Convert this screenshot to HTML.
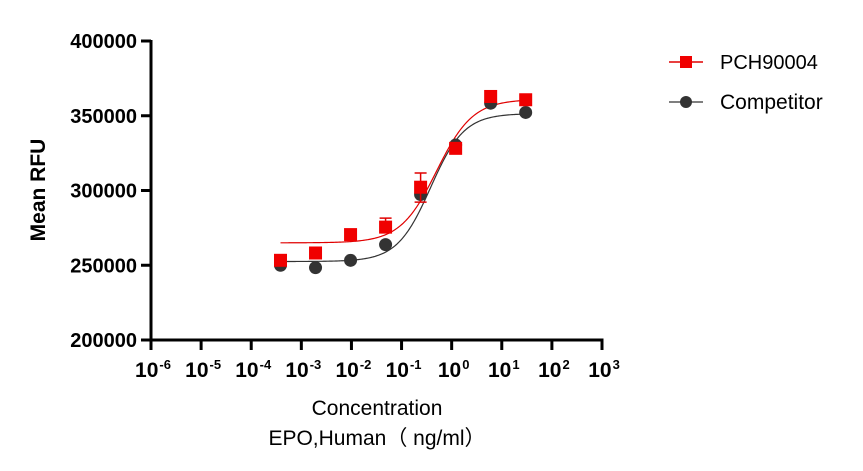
<!DOCTYPE html>
<html><head><meta charset="utf-8"><style>
html,body{margin:0;padding:0;background:#fff;width:863px;height:471px;overflow:hidden}
svg text{font-family:"Liberation Sans",Arial,sans-serif}
</style></head><body>
<svg id="chart" width="863" height="471" viewBox="0 0 863 471"></svg>
<script>
const concentrations=[0.000384,0.00192,0.0096,0.048,0.24,1.2,6,30];
const pchValues=[253300,258200,270500,275500,302200,328200,362900,360700];
const pchErrUp=[0,0,0,6000,9500,0,0,0];
const pchErrDown=[0,0,0,0,10000,0,0,0];
const compValues=[250000,248400,253300,263800,297300,330400,358400,352200];
const pchFit=[265000,361000,0.5,1.2];
const compFit=[252500,351500,0.38,1.3];
const yTicks=[200000,250000,300000,350000,400000];
const xExps=[-6,-5,-4,-3,-2,-1,0,1,2,3];

const NS="http://www.w3.org/2000/svg";
const svg=document.getElementById('chart');
const X0=151,X1=602,Y0=340,Y1=41;
function xs(c){return X0+(Math.log10(c)+6)/9*(X1-X0);}
function ys(v){return Y0-(v-200000)/200000*(Y0-Y1);}
function mk(t,a,p){const e=document.createElementNS(NS,t);for(const k in a)e.setAttribute(k,a[k]);(p||svg).appendChild(e);return e;}

let e;
e=mk('line',{x1:X0,y1:Y1-1,x2:X0,y2:Y0+1.5,stroke:'#000','stroke-width':3});


e=mk('line',{x1:X0-1.5,y1:Y0,x2:X1+1.5,y2:Y0,stroke:'#000','stroke-width':3});



yTicks.forEach(v=>{
  const y=ys(v);
  e=mk('line',{x1:X0-10,y1:y,x2:X0,y2:y,stroke:'#000','stroke-width':3});
  
  
  e=mk('text',{x:X0-14,y:y+7,'text-anchor':'end','font-size':20,'font-weight':'bold'});
  e.textContent=v;
  
  
});
xExps.forEach(p=>{
  const x=xs(Math.pow(10,p));
  e=mk('line',{x1:x,y1:Y0,x2:x,y2:Y0+10,stroke:'#000','stroke-width':3});
  
  
  e=mk('text',{x:x+2,y:377,'text-anchor':'middle','font-size':21,'font-weight':'bold'});
  
  
  const t1=mk('tspan',{},e);t1.textContent='10';
  const t2=mk('tspan',{dy:-8,'font-size':13,dx:1},e);t2.textContent=(p<0?'-':'')+Math.abs(p);
});

function fit(f,c){return f[0]+(f[1]-f[0])/(1+Math.pow(f[2]/c,f[3]));}
function curve(f,color,name){
  let d='';const a=Math.log10(concentrations[0]),b=Math.log10(concentrations[concentrations.length-1]);
  for(let i=0;i<=200;i++){const c=Math.pow(10,a+(b-a)*i/200);d+=(i?'L':'M')+xs(c).toFixed(2)+','+ys(fit(f,c)).toFixed(2);}
  const p=mk('path',{d:d,fill:'none',stroke:color,'stroke-width':1.2});
  
  
}
curve(compFit,'#333','competitor-fit-curve');
curve(pchFit,'#e00000','pch90004-fit-curve');

compValues.forEach((v,i)=>{
  const c=mk('circle',{cx:xs(concentrations[i]),cy:ys(v),r:6.5,fill:'#333'});
  
  
});
pchValues.forEach((v,i)=>{
  const x=xs(concentrations[i]),y=ys(v);
  if(pchErrUp[i]>0){
    const yt=ys(v+pchErrUp[i]);
    e=mk('path',{d:`M${x},${y}V${yt}M${x-6},${yt}H${x+6}`,stroke:'#e00000','stroke-width':1.5,fill:'none'});
    
    
  }
  if(pchErrDown[i]>0){
    const yb=ys(v-pchErrDown[i]);
    e=mk('path',{d:`M${x},${y}V${yb}M${x-6},${yb}H${x+6}`,stroke:'#e00000','stroke-width':1.5,fill:'none'});
    
    
  }
  const r=mk('rect',{x:x-6.5,y:y-6.5,width:13,height:13,fill:'#f00000'});
  
  
});

e=mk('text',{x:0,y:0,transform:'translate(45,190) rotate(-90)','text-anchor':'middle','font-size':21,'font-weight':'bold'});
e.textContent='Mean RFU';


e=mk('text',{x:377,y:415,'text-anchor':'middle','font-size':21});
e.textContent='Concentration';


e=mk('text',{x:377,y:445,'text-anchor':'middle','font-size':21});
e.textContent='EPO,Human（ ng/ml）';



const lg=mk('g',{});


mk('line',{x1:669,y1:62,x2:703,y2:62,stroke:'#e00000','stroke-width':1.5},lg);
mk('rect',{x:680,y:56,width:12,height:12,fill:'#f00000'},lg);
e=mk('text',{x:720,y:69,'font-size':20},lg);e.textContent='PCH90004';


mk('line',{x1:669,y1:102,x2:703,y2:102,stroke:'#555','stroke-width':1.5},lg);
mk('circle',{cx:686,cy:102,r:6,fill:'#333'},lg);
e=mk('text',{x:720,y:109,'font-size':21},lg);e.textContent='Competitor';


</script>
</body></html>
